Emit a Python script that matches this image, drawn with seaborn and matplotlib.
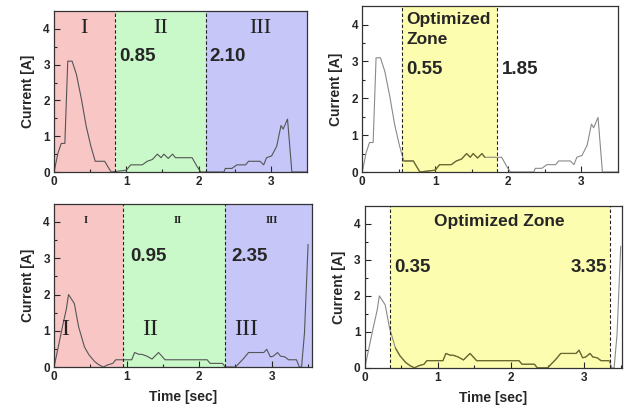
import numpy as np
import pandas as pd
import matplotlib
matplotlib.use("Agg")
import matplotlib.pyplot as plt
import seaborn as sns

# current trace, first run (top row)
t_top = [0, 0.055, 0.10, 0.15, 0.19, 0.25, 0.31, 0.38, 0.445, 0.51, 0.57, 0.70, 0.79,
         1.00, 1.00, 1.06, 1.22, 1.29, 1.36, 1.43, 1.48, 1.52, 1.58, 1.64, 1.68, 1.91, 1.98, 2.03,
         2.35, 2.37, 2.46, 2.53, 2.65, 2.69, 2.85, 2.90, 2.94, 3.01, 3.08, 3.14, 3.17, 3.23, 3.29, 3.5]
i_top = [0, 0.53, 0.80, 0.80, 3.10, 3.10, 2.73, 2.03, 1.28, 0.72, 0.30, 0.30, 0,
         0, 0.10, 0.20, 0.20, 0.30, 0.35, 0.50, 0.40, 0.50, 0.38, 0.50, 0.40, 0.40, 0.15, 0,
         0, 0.10, 0.10, 0.20, 0.20, 0.30, 0.30, 0.20, 0.40, 0.45, 0.72, 1.30, 1.20, 1.48, 0, 0]

# current trace, second run (bottom row)
t_bot = [0, 0.055, 0.12, 0.17, 0.20, 0.28, 0.34, 0.42, 0.48, 0.56, 0.62, 0.68, 0.74, 0.81, 0.85,
         1.07, 1.11, 1.17, 1.21, 1.28, 1.35, 1.44, 1.53, 2.11, 2.15, 2.32, 2.36, 2.50, 2.61, 2.68,
         2.89, 2.93, 2.98, 3.02, 3.08, 3.12, 3.18, 3.23, 3.34, 3.38, 3.41, 3.45, 3.50]
i_bot = [0, 0.52, 1.15, 1.60, 2.00, 1.75, 1.10, 0.55, 0.34, 0.15, 0.06, 0, 0.06, 0.10, 0.20,
         0.20, 0.40, 0.35, 0.35, 0.30, 0.22, 0.40, 0.20, 0.20, 0.10, 0.10, 0, 0, 0.23, 0.40,
         0.40, 0.49, 0.28, 0.30, 0.40, 0.30, 0.28, 0.20, 0.20, 0, 0, 0.93, 3.38]

zones_top = [0.85, 2.10]
opt_top = [0.55, 1.85]
zones_bot = [0.95, 2.35]
opt_bot = [0.35, 3.35]
numerals = ["I", "II", "III"]

sns.set_style("ticks")
plt.rcParams['font.family'] = ['Liberation Sans', 'DejaVu Sans']
plt.rcParams['font.weight'] = 'bold'
plt.rcParams['axes.labelweight'] = 'bold'

df_top = pd.DataFrame({"t": t_top, "i": i_top})
df_bot = pd.DataFrame({"t": t_bot, "i": i_bot})

fig = plt.figure(figsize=(6.31, 4.11), dpi=100)
ax1 = fig.add_axes([0.0856, 0.5815, 0.401, 0.3915])
ax2 = fig.add_axes([0.574, 0.5815, 0.405, 0.4035])
ax3 = fig.add_axes([0.0856, 0.107, 0.4084, 0.397])
ax4 = fig.add_axes([0.578, 0.105, 0.408, 0.394])

red = "#f9c6c6"
green = "#c9f8c9"
blue = "#c6c6f8"
yellow = "#fdfdb0"


def style(ax, xmax, xlabel):
    ax.set_xlim(0, xmax)
    ax.set_ylim(0, 4.5)
    ax.set_xticks([0, 1, 2, 3])
    ax.set_yticks([0, 1, 2, 3, 4])
    ax.set_xticks(np.arange(0.5, xmax, 1), minor=True)
    ax.set_yticks(np.arange(0.5, 4.5, 1), minor=True)
    ax.tick_params(direction="in", length=4, width=0.8, labelsize=8.5, pad=3)
    ax.tick_params(which="minor", direction="in", length=2.5, width=0.8)
    for lab in ax.get_xticklabels() + ax.get_yticklabels():
        lab.set_fontweight("bold")
    for s in ax.spines.values():
        s.set_visible(True)
        s.set_linewidth(0.9)
        s.set_color("#333333")
    ax.set_ylabel("Current [A]", fontsize=10, fontweight="bold", labelpad=6)
    if xlabel:
        ax.set_xlabel("Time [sec]", fontsize=10, fontweight="bold", labelpad=5)
    else:
        ax.set_xlabel("")


# top left: three zones
ax = ax1
bounds = [0] + zones_top + [3.5]
for k, c in enumerate([red, green, blue]):
    ax.axvspan(bounds[k], bounds[k + 1], color=c, lw=0, zorder=0)
for z in zones_top:
    ax.axvline(z, color="#222222", ls=(0, (3, 2)), lw=0.8, zorder=3)
sns.lineplot(data=df_top, x="t", y="i", ax=ax, color="#555555", lw=0.8, zorder=2)
for x, s in zip([0.42, 1.48, 2.85], numerals):
    ax.text(x, 4.0, s, family="Liberation Serif", fontweight="normal", fontsize=16,
            ha="center", va="center", color="#222222")
for z in zones_top:
    ax.text(z + 0.05, 3.24, f"{z:.2f}", fontsize=13.5, fontweight="bold", va="center")
style(ax, 3.5, False)

# top right: optimized zone
ax = ax2
ax.axvspan(opt_top[0], opt_top[1], color=yellow, lw=0, zorder=0)
for z in opt_top:
    ax.axvline(z, color="#222222", ls=(0, (3, 2)), lw=0.8, zorder=3)
sns.lineplot(data=df_top, x="t", y="i", ax=ax, color="#8a8a8a", lw=0.8, zorder=2)
m = (df_top.t >= opt_top[0]) & (df_top.t <= opt_top[1])
sns.lineplot(data=df_top[m], x="t", y="i", ax=ax, color="#6b6b2a", lw=0.9, zorder=2)
ax.text(opt_top[0] + 0.06, 4.13, "Optimized", fontsize=12.5, fontweight="bold", va="center")
ax.text(opt_top[0] + 0.06, 3.59, "Zone", fontsize=12.5, fontweight="bold", va="center")
for z in opt_top:
    ax.text(z + 0.06, 2.77, f"{z:.2f}", fontsize=13.5, fontweight="bold", va="center")
style(ax, 3.5, False)

# bottom left: three zones
ax = ax3
bounds = [0] + zones_bot + [3.55]
for k, c in enumerate([red, green, blue]):
    ax.axvspan(bounds[k], bounds[k + 1], color=c, lw=0, zorder=0)
for z in zones_bot:
    ax.axvline(z, color="#222222", ls=(0, (3, 2)), lw=0.8, zorder=3)
sns.lineplot(data=df_bot, x="t", y="i", ax=ax, color="#555555", lw=0.8, zorder=2)
for x, s in zip([0.43, 1.70, 3.0], numerals):
    ax.text(x, 4.05, s, family="Liberation Serif", fontweight="bold", fontsize=7.5,
            ha="center", va="center", color="#222222")
for x, s in zip([0.15, 1.33, 2.65], numerals):
    ax.text(x, 1.03, s, family="Liberation Serif", fontweight="normal", fontsize=17,
            ha="center", va="center", color="#222222")
for z in zones_bot:
    ax.text(z + 0.1, 3.05, f"{z:.2f}", fontsize=13.5, fontweight="bold", va="center")
style(ax, 3.55, True)

# bottom right: optimized zone
ax = ax4
ax.axvspan(opt_bot[0], opt_bot[1], color=yellow, lw=0, zorder=0)
for z in opt_bot:
    ax.axvline(z, color="#222222", ls=(0, (3, 2)), lw=0.8, zorder=3)
sns.lineplot(data=df_bot, x="t", y="i", ax=ax, color="#8a8a8a", lw=0.8, zorder=2)
m = (df_bot.t >= opt_bot[0]) & (df_bot.t <= opt_bot[1])
sns.lineplot(data=df_bot[m], x="t", y="i", ax=ax, color="#6b6b2a", lw=0.9, zorder=2)
ax.text(1.84, 4.06, "Optimized Zone", fontsize=12.5, fontweight="bold", ha="center", va="center")
ax.text(opt_bot[0] + 0.05, 2.8, f"{opt_bot[0]:.2f}", fontsize=13.5, fontweight="bold", va="center")
ax.text(opt_bot[1] - 0.04, 2.8, f"{opt_bot[1]:.2f}", fontsize=13.5, fontweight="bold",
        ha="right", va="center")
style(ax, 3.52, True)

fig.savefig("out.png", dpi=100)
